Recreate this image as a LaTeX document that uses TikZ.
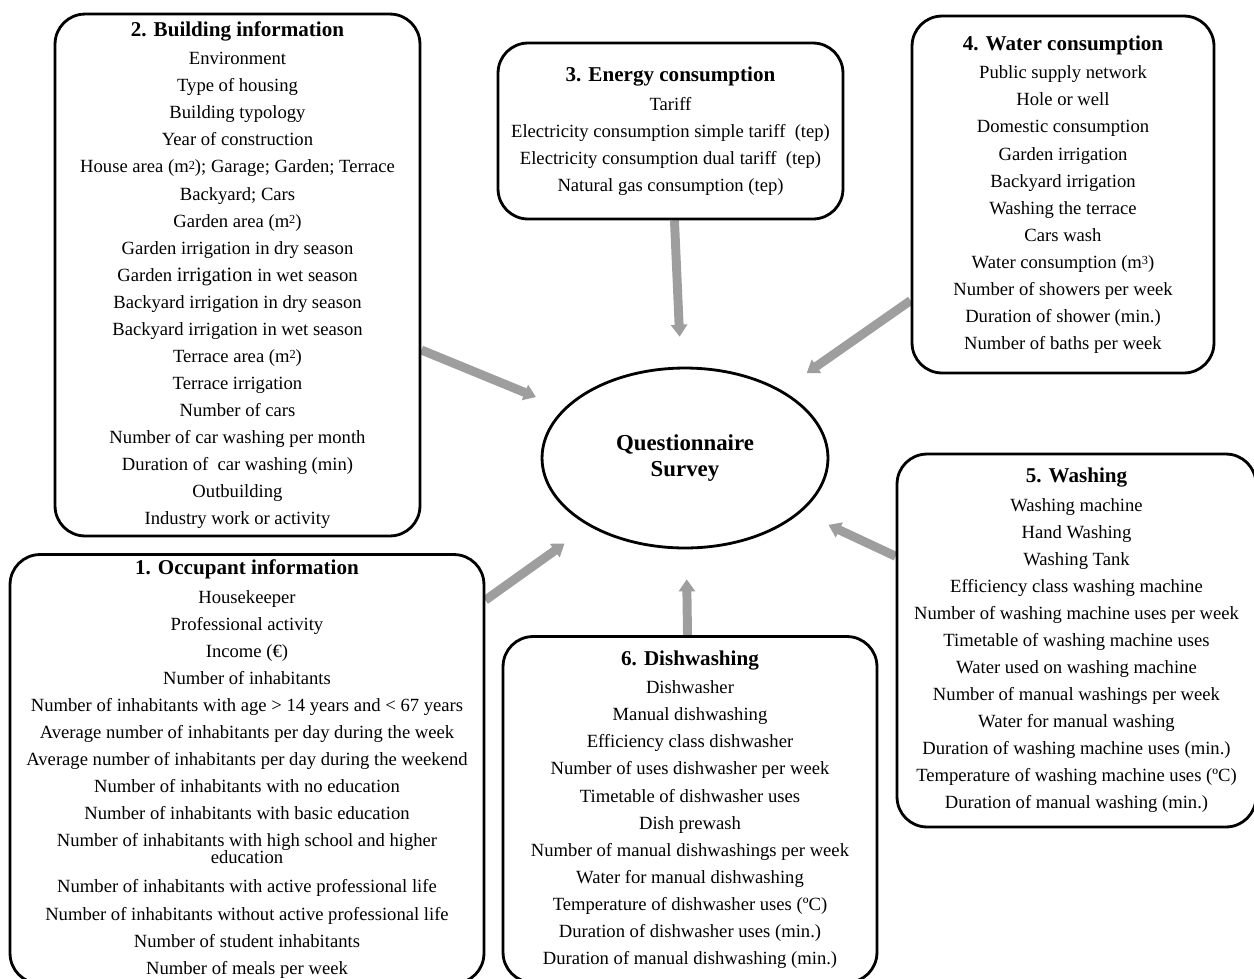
\documentclass[tikz,border=0pt]{standalone}
\usepackage{fontspec}
\setmainfont{Liberation Serif}
\usepackage{xcolor}
\usepackage{tikz}
\usetikzlibrary{arrows.meta,shapes.geometric,backgrounds}
\definecolor{flowgray}{RGB}{158,158,158}
\newcommand{\paneltitle}[1]{{\fontsize{12}{15.4}\selectfont\bfseries #1}\\[0.03cm]}
\newcommand{\sq}[1]{\raisebox{0.45ex}{\fontsize{7}{7}\selectfont #1}}
\begin{document}
\begin{tikzpicture}[x=0.02cm, y=-0.02cm,
  panel/.style={draw, line width=1.6pt, rounded corners=0.6cm, align=center,
                inner sep=2pt, font=\fontsize{10.6}{15.4}\selectfont},
  survey/.style={draw, ellipse, line width=1.6pt, align=center,
                 minimum width=5.72cm, minimum height=3.6cm, inner sep=0pt,
                 font=\fontsize{13}{14.8}\selectfont\bfseries},
  flow/.style={draw=flowgray, line width=5.1pt, shorten >=0.6cm,
               -{Triangle[width=0.32cm, length=0.24cm]}}
]
\useasboundingbox (0,0) rectangle (1254,978);

\node[survey] (survey) at (685,458) {Questionnaire\\Survey};

\node[panel, minimum width=7.3cm, minimum height=10.44cm] (building) at (237.5,275) {%
  \paneltitle{2. Building information}
  Environment\\
  Type of housing\\
  Building typology\\
  Year of construction\\
  House area (m\sq{2}); Garage; Garden; Terrace\\
  Backyard; Cars\\
  Garden area (m\sq{2})\\
  Garden irrigation in dry season\\
  Garden {\fontsize{11.6}{15.4}\selectfont irrigation} in wet season\\
  Backyard irrigation in dry season\\
  Backyard irrigation in wet season\\
  Terrace area (m\sq{2})\\
  Terrace irrigation\\
  Number of cars\\
  Number of car washing per month\\
  Duration of \ car washing (min)\\
  Outbuilding\\
  Industry work or activity};

\node[panel, minimum width=9.48cm, minimum height=8.58cm] (occupant) at (247,769) {%
  \paneltitle{1. Occupant information}
  Housekeeper\\
  Professional activity\\
  Income (€)\\
  Number of inhabitants\\
  Number of inhabitants with age > 14 years and < 67 years\\
  Average number of inhabitants per day during the week\\
  Average number of inhabitants per day during the weekend\\
  Number of inhabitants with no education\\
  Number of inhabitants with basic education\\
  Number of inhabitants with high school and higher\\[-0.2cm]
  education\\[0.04cm]
  Number of inhabitants with active professional life\\
  Number of inhabitants without active professional life\\
  Number of student inhabitants\\
  Number of meals per week};

\node[panel, minimum width=6.9cm, minimum height=3.52cm] (energy) at (670.5,131) {%
  \paneltitle{3. Energy consumption}
  Tariff\\
  Electricity consumption simple tariff \ (tep)\\
  Electricity consumption dual tariff \ (tep)\\
  Natural gas consumption (tep)};

\node[panel, minimum width=6.04cm, minimum height=7.14cm] (water) at (1063,194.5) {%
  \paneltitle{4. Water consumption}
  Public supply network\\
  Hole or well\\
  Domestic consumption\\
  Garden irrigation\\
  Backyard irrigation\\
  Washing the terrace\\
  Cars wash\\
  Water consumption (m\sq{3})\\
  Number of showers per week\\
  Duration of shower (min.)\\
  Number of baths per week};

\node[panel, minimum width=7.18cm, minimum height=7.46cm] (washing) at (1076.5,640.5) {%
  \paneltitle{5. Washing}
  Washing machine\\
  Hand Washing\\
  Washing Tank\\
  Efficiency class washing machine\\
  Number of washing machine uses per week\\
  Timetable of washing machine uses\\
  Water used on washing machine\\
  Number of manual washings per week\\
  Water for manual washing\\
  Duration of washing machine uses (min.)\\
  Temperature of washing machine uses (ºC)\\
  Duration of manual washing (min.)};

\node[panel, minimum width=7.48cm, minimum height=6.92cm] (dishwashing) at (690,809.5) {%
  \paneltitle{6. Dishwashing}
  Dishwasher\\
  Manual dishwashing\\
  Efficiency class dishwasher\\
  Number of uses dishwasher per week\\
  Timetable of dishwasher uses\\
  Dish prewash\\
  Number of manual dishwashings per week\\
  Water for manual dishwashing\\
  Temperature of dishwasher uses (ºC)\\
  Duration of dishwasher uses (min.)\\
  Duration of manual dishwashing (min.)};

\begin{scope}[on background layer]
\draw[flow] (building) -- (survey);
\draw[flow] (occupant) -- (survey);
\draw[flow] (energy) -- (survey);
\draw[flow] (water) -- (survey);
\draw[flow] (washing) -- (survey);
\draw[flow] (dishwashing) -- (survey);
\end{scope}
\end{tikzpicture}
\end{document}
